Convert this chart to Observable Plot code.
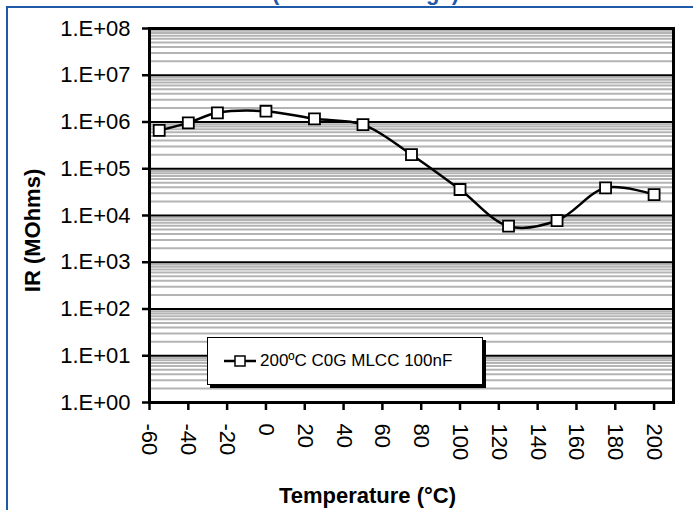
<!DOCTYPE html>
<html><head><meta charset="utf-8">
<script src="https://cdn.jsdelivr.net/npm/d3@7"></script>
<script src="https://cdn.jsdelivr.net/npm/@observablehq/plot@0.6"></script>
<style>
html,body{margin:0;padding:0;background:#fff;}
#wrap{position:relative;width:693px;height:510px;overflow:hidden;font-family:"Liberation Sans",Arial,sans-serif;}
#border{position:absolute;left:6px;top:6px;width:900px;height:900px;border:2.5px solid #1f5aa8;box-sizing:border-box;}
#title{position:absolute;left:272px;top:-18px;font-weight:bold;font-size:22px;line-height:22px;color:#1f5aa8;white-space:nowrap;}
#chart{position:absolute;left:0;top:0;}
#legend{position:absolute;left:207px;top:337px;width:276px;height:48px;box-sizing:border-box;border:1.5px solid #000;background:#fff;box-shadow:3px 3px 0 #000;display:flex;align-items:center;font-size:17px;padding-left:16px;white-space:nowrap;}
#legend svg{margin-right:2px;}
</style>
</head><body>
<div id="wrap">
  <div id="title"></div>
  <div id="border"></div>
  <div id="chart"></div>
  <div id="legend"></div>
</div>
<script>
const titleText = "(Extended Range)";
const seriesName = "200ºC C0G MLCC 100nF";
const xTitle = "Temperature (°C)";
const yTitle = "IR (MOhms)";
const temperature = [-55, -40, -25, 0, 25, 50, 75, 100, 125, 150, 175, 200];
const irMOhms = [6.6e5, 9.6e5, 1.57e6, 1.7e6, 1.17e6, 8.8e5, 2.0e5, 3.6e4, 5.9e3, 7.8e3, 3.9e4, 2.8e4];
const xTicks = [-60, -40, -20, 0, 20, 40, 60, 80, 100, 120, 140, 160, 180, 200];
const xTickLabels = ["-60", "-40", "-20", "0", "20", "40", "60", "80", "100", "120", "140", "160", "180", "200"];
const yTicks = [1, 1e1, 1e2, 1e3, 1e4, 1e5, 1e6, 1e7, 1e8];
const yTickLabels = ["1.E+00", "1.E+01", "1.E+02", "1.E+03", "1.E+04", "1.E+05", "1.E+06", "1.E+07", "1.E+08"];
const minorMultipliers = [2, 3, 4, 5, 6, 7, 8, 9];

const data = temperature.map((t, i) => ({t, ir: irMOhms[i]}));
const minor = yTicks.slice(0, -1).flatMap(d => minorMultipliers.map(m => m * d));

document.getElementById("title").textContent = titleText;

const chart = Plot.plot({
  width: 693, height: 510,
  marginLeft: 149, marginRight: 20, marginTop: 28, marginBottom: 108,
  style: {fontFamily: "Liberation Sans, Arial, sans-serif", fontSize: "22px", background: "transparent", color: "#000"},
  x: {domain: [-60, 210]},
  y: {type: "log", domain: [1, 1e8]},
  marks: [
    Plot.ruleY(minor, {stroke: "#b4b4b4", strokeWidth: 2}),
    Plot.ruleY(yTicks, {stroke: "#000", strokeWidth: 2}),
    Plot.line(data, {x: "t", y: "ir", curve: "catmull-rom", stroke: "#000", strokeWidth: 2.5}),
    Plot.dot(data, {x: "t", y: "ir", symbol: "square", r: 6.2, fill: "#fff", stroke: "#000", strokeWidth: 1.8}),
    Plot.frame({stroke: "#000", strokeWidth: 3}),
    Plot.axisY({ticks: yTicks, tickFormat: d => yTickLabels[yTicks.indexOf(d)], tickSize: 7, tickPadding: 12, fontSize: 22, strokeWidth: 2.5, label: null}),
    Plot.axisX({ticks: xTicks, tickFormat: d => xTickLabels[xTicks.indexOf(d)], tickSize: 8, tickRotate: 90, tickPadding: 13, fontSize: 22, strokeWidth: 2.5, label: null}),
    Plot.text([yTitle], {frameAnchor: "left", dx: -117, dy: 15, rotate: -90, textAnchor: "middle", lineAnchor: "middle", fontWeight: "bold", fontSize: 22}),
    Plot.text([xTitle], {frameAnchor: "bottom", dx: -44, dy: 93, textAnchor: "middle", lineAnchor: "middle", fontWeight: "bold", fontSize: 22})
  ]
});
document.getElementById("chart").appendChild(chart);

const legend = document.getElementById("legend");
legend.innerHTML = '<svg width="34" height="14"><line x1="0" y1="7" x2="32" y2="7" stroke="#000" stroke-width="2.5"/><rect x="11" y="2" width="10" height="10" fill="#fff" stroke="#000" stroke-width="1.5"/></svg>';
const span = document.createElement("span");
span.textContent = seriesName;
legend.appendChild(span);
</script>
</body></html>
